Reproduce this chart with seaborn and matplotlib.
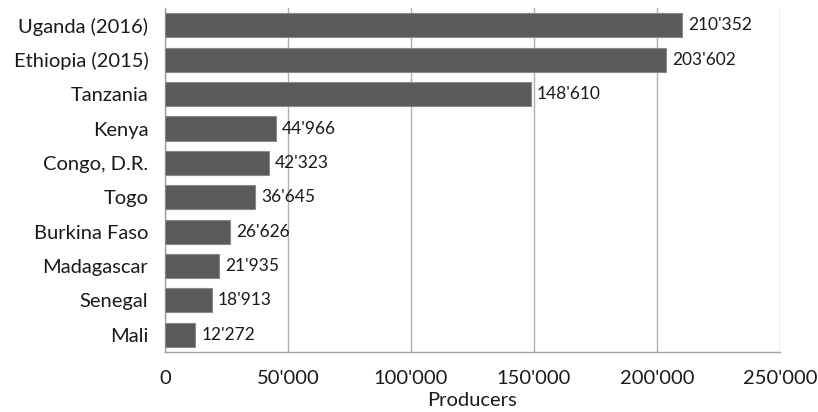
import matplotlib.pyplot as plt
import matplotlib.ticker as mticker
import seaborn as sns
import numpy as np

countries = ['Uganda (2016)', 'Ethiopia (2015)', 'Tanzania', 'Kenya', 'Congo, D.R.',
             'Togo', 'Burkina Faso', 'Madagascar', 'Senegal', 'Mali']
producers = [210352, 203602, 148610, 44966, 42323, 36645, 26626, 21935, 18913, 12272]

sns.set_style('white')
plt.rcParams['font.family'] = ['Lato', 'DejaVu Sans']

def fmt(v, pos=None):
    return f'{int(v):,}'.replace(',', "'")

fig = plt.figure(figsize=(8.18, 4.12), dpi=100)
ax = fig.add_axes([0.2017, 0.146, 0.7518, 0.834])

sns.barplot(x=producers, y=countries, orient='h', color='#5a5a5a', saturation=1,
            width=0.7, edgecolor='#8a8a8a', linewidth=0.8, ax=ax, zorder=3)

for i, v in enumerate(producers):
    ax.text(v + 2500, i, fmt(v), va='center', ha='left', fontsize=12.5, color='#1a1a1a')

ax.set_xlim(0, 250000)
ax.set_ylim(9.5, -0.45)
ax.xaxis.set_major_locator(mticker.MultipleLocator(50000))
ax.xaxis.set_major_formatter(mticker.FuncFormatter(fmt))
ax.grid(axis='x', color='#b0b0b0', linewidth=1, zorder=0)
ax.set_axisbelow(True)

for s in ['top', 'right']:
    ax.spines[s].set_visible(False)
for s in ['left', 'bottom']:
    ax.spines[s].set_color('#a0a0a0')
    ax.spines[s].set_linewidth(1)

ax.set_yticks(np.arange(-0.5, 10, 1), minor=True)
ax.tick_params(axis='y', which='major', length=0, labelsize=14.5, pad=12, labelcolor='#1a1a1a')
ax.tick_params(axis='y', which='minor', length=6, color='#a0a0a0', direction='out')
ax.tick_params(axis='x', which='major', length=6, color='#a0a0a0', direction='out',
               labelsize=14.5, pad=7, labelcolor='#1a1a1a')

ax.set_xlabel('Producers', fontsize=14.5, color='#1a1a1a', labelpad=4)
ax.set_ylabel('')

fig.savefig('out.png', dpi=100)
